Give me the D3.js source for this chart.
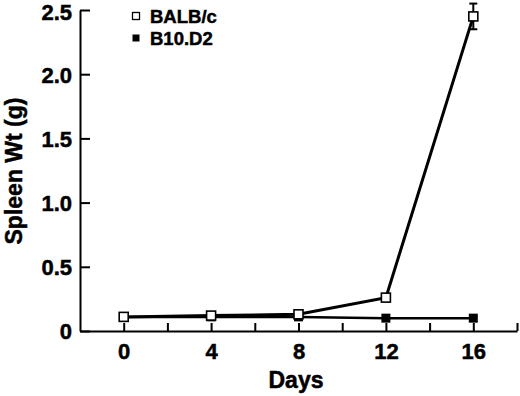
<!DOCTYPE html>
<html>
<head>
<meta charset="utf-8">
<script src="https://cdn.jsdelivr.net/npm/d3@7"></script>
<style>
  html, body { margin: 0; padding: 0; background: #fff; }
  svg { display: block; }
  text { font-family: "Liberation Sans", Arial, Helvetica, sans-serif; font-weight: bold; fill: #000; stroke: #000; stroke-width: 0.5px; }
</style>
</head>
<body>
<script>
// ---- data ----
const days = [0, 4, 8, 12, 16];
const balbc = [0.11, 0.12, 0.13, 0.26, 2.45];
const balbcErr = [0, 0, 0, 0, 0.10];
const b10d2 = [0.11, 0.11, 0.11, 0.10, 0.10];
const seriesNames = ["BALB/c", "B10.D2"];
const xTickValues = [0, 2, 4, 6, 8, 10, 12, 14, 16, 18];
const xTickLabels = [0, 4, 8, 12, 16];
const yTickValues = [0, 0.5, 1.0, 1.5, 2.0, 2.5];

// ---- layout ----
const W = 520, H = 396;
const svg = d3.select("body").append("svg").attr("width", W).attr("height", H);

const x = d3.scaleLinear().domain([-2, 18]).range([80, 517]);
const y = d3.scaleLinear().domain([0, 2.5]).range([331, 10]);

// axes
const xAxis = d3.axisBottom(x)
  .tickValues(xTickValues)
  .tickSizeInner(-8).tickSizeOuter(0)
  .tickPadding(12)
  .tickFormat(d => xTickLabels.includes(d) ? String(d) : "");
const gx = svg.append("g").attr("transform", `translate(0,${y(0)})`).call(xAxis);
gx.selectAll("text").style("font-size", "22px");

const yAxis = d3.axisLeft(y)
  .tickValues(yTickValues)
  .tickSizeInner(-10).tickSizeOuter(0)
  .tickPadding(8)
  .tickFormat(d => d === 0 ? "0" : d3.format(".1f")(d));
const gy = svg.append("g").attr("transform", `translate(${x(-2)},0)`).call(yAxis);
gy.selectAll("text").style("font-size", "22px").attr("dy", d => d === 2.5 ? "0.42em" : "0.36em");

[gx, gy].forEach(g => {
  g.select(".domain").attr("stroke", "#000").attr("stroke-width", 2);
  g.selectAll(".tick line").attr("stroke", "#000").attr("stroke-width", 2);
  g.selectAll(".tick text").attr("fill", "#000").attr("stroke", "#000").attr("stroke-width", 0.5)
    .style("font-family", '"Liberation Sans", Arial, sans-serif').style("font-weight", "bold");
});

// axis titles
svg.append("text")
  .attr("x", 296).attr("y", 388)
  .attr("text-anchor", "middle")
  .style("font-size", "23px")
  .text("Days");

svg.append("text")
  .attr("transform", "translate(22,171) rotate(-90)")
  .attr("text-anchor", "middle")
  .style("font-size", "23px")
  .text("Spleen Wt (g)");

const line = d3.line().x(d => x(d[0])).y(d => y(d[1]));

// B10.D2 series (drawn first, underneath)
const b10Data = days.map((d, i) => [d, b10d2[i]]);
svg.append("path").datum(b10Data)
  .attr("d", line).attr("fill", "none").attr("stroke", "#000").attr("stroke-width", 2.5);
svg.selectAll(".b10").data(b10Data).enter().append("rect")
  .attr("class", "b10")
  .attr("x", d => x(d[0]) - 4.5).attr("y", d => y(d[1]) - 4.5)
  .attr("width", 9).attr("height", 9)
  .attr("fill", "#000");

// BALB/c series
const balbData = days.map((d, i) => [d, balbc[i], balbcErr[i]]);
svg.append("path").datum(balbData)
  .attr("d", line).attr("fill", "none").attr("stroke", "#000").attr("stroke-width", 3);

// error bars
const eb = svg.selectAll(".err").data(balbData.filter(d => d[2] > 0)).enter().append("g").attr("class", "err");
eb.append("line")
  .attr("x1", d => x(d[0])).attr("x2", d => x(d[0]))
  .attr("y1", d => y(d[1] + d[2])).attr("y2", d => y(d[1] - d[2]))
  .attr("stroke", "#000").attr("stroke-width", 2);
eb.append("line")
  .attr("x1", d => x(d[0]) - 4).attr("x2", d => x(d[0]) + 4)
  .attr("y1", d => y(d[1] + d[2])).attr("y2", d => y(d[1] + d[2]))
  .attr("stroke", "#000").attr("stroke-width", 2);
eb.append("line")
  .attr("x1", d => x(d[0]) - 4).attr("x2", d => x(d[0]) + 4)
  .attr("y1", d => y(d[1] - d[2])).attr("y2", d => y(d[1] - d[2]))
  .attr("stroke", "#000").attr("stroke-width", 2);

svg.selectAll(".balb").data(balbData).enter().append("rect")
  .attr("class", "balb")
  .attr("x", d => x(d[0]) - 4.5).attr("y", d => y(d[1]) - 4.5)
  .attr("width", 9).attr("height", 9)
  .attr("fill", "#fff").attr("stroke", "#000").attr("stroke-width", 1.6);

// legend
const legend = svg.append("g");
const legY = [16, 38];
seriesNames.forEach((name, i) => {
  const r = legend.append("rect")
    .attr("x", 132.5).attr("y", legY[i] - 3.5)
    .attr("width", 7).attr("height", 7);
  if (i === 0) r.attr("fill", "#fff").attr("stroke", "#000").attr("stroke-width", 1.3);
  else r.attr("fill", "#000");
  legend.append("text")
    .attr("x", 150).attr("y", legY[i] + 6.5)
    .style("font-size", "18.5px")
    .text(name);
});
</script>
</body>
</html>
